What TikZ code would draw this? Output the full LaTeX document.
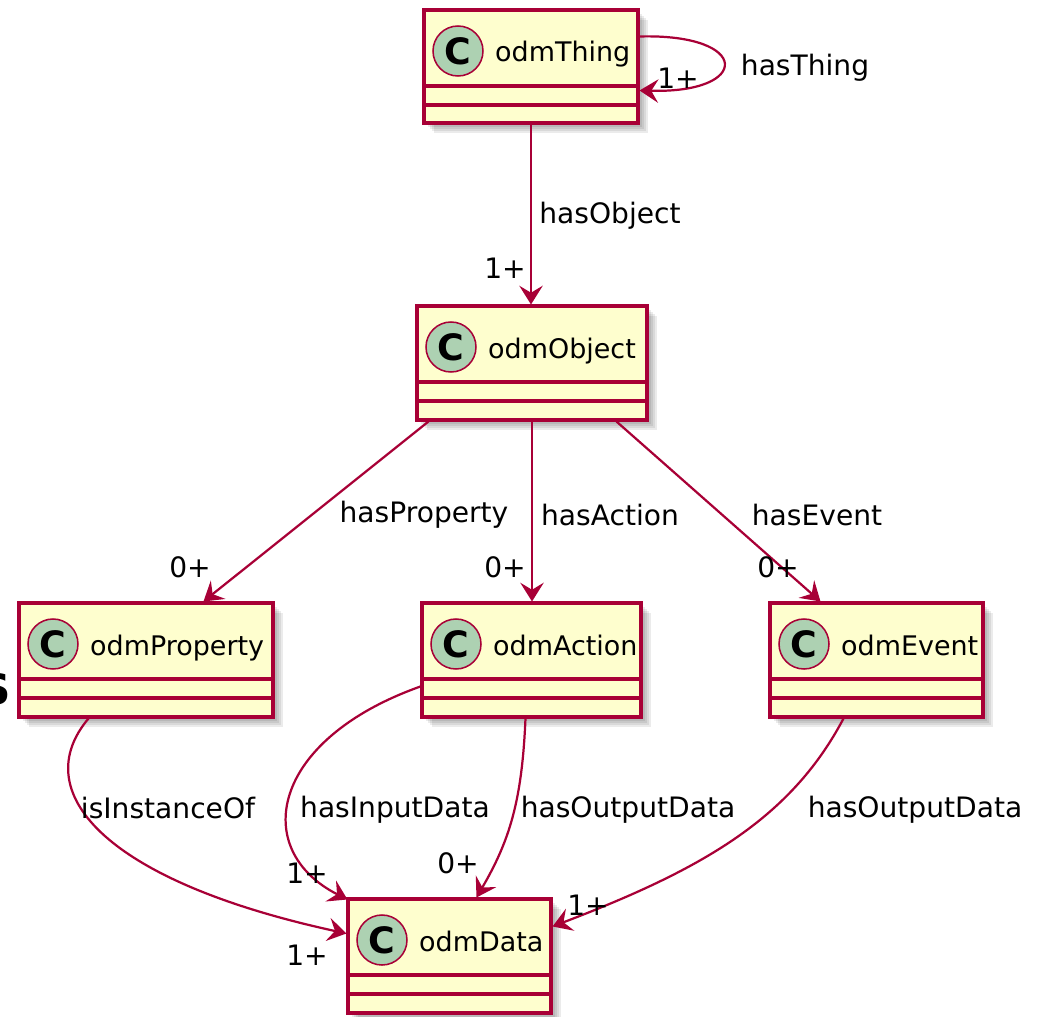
\documentclass[tikz,border=0pt]{standalone}
\usepackage{fontspec}
\setmainfont{DejaVu Sans}
\usetikzlibrary{arrows.meta,calc,fit}
\definecolor{umlfill}{HTML}{FEFECE}
\definecolor{umlred}{HTML}{A80036}
\definecolor{umlgreen}{HTML}{ADD1B2}

% class box: #1 name, #2..#5 corners (px), #6 class name
\newcommand\umlclass[6]{%
  \foreach \k in {2,4,6,8,10}{\fill[black,opacity=0.08] (#2+\k,#3+\k) rectangle (#4+\k,#5+\k);}
  \node[classbox, fit={(#2,#3) (#4,#5)}] (#1) {};
  \draw[sepline] (#2,#3+76) -- (#4,#3+76);
  \draw[sepline] (#2,#3+95) -- (#4,#3+95);
  \node[badge] (#1-badge) at (#2+34,#3+41) {C};
  \node[classname] (#1-name) at (#2+71,#3+52) {#6};
}

\begin{document}
\begin{tikzpicture}[x=0.03cm,y=-0.03cm,
  classbox/.style={draw=umlred, fill=umlfill, line width=2.6pt, inner sep=0pt},
  sepline/.style={draw=umlred, line width=3pt},
  badge/.style={circle, draw=umlred, fill=umlgreen, line width=1.3pt,
    minimum size=1.5cm, inner sep=0pt, font=\fontsize{31}{31}\selectfont\bfseries},
  classname/.style={anchor=base west, inner sep=0pt, font=\fontsize{23}{27}\selectfont},
  rel/.style={draw=umlred, line width=1.9pt,
    -{Stealth[length=16pt,width=20pt,inset=6pt]}},
  lbl/.style={font=\fontsize{24}{28}\selectfont, inner sep=0pt},
]
\useasboundingbox (0,0) rectangle (1046,1016);

% classes
\umlclass{thing}{424}{10}{638}{123}{odmThing}
\umlclass{object}{417}{306}{647}{420}{odmObject}
\umlclass{property}{19}{603}{273}{717}{odmProperty}
\umlclass{action}{422}{603}{641}{717}{odmAction}
\umlclass{event}{770}{603}{983}{717}{odmEvent}
\umlclass{data}{348}{899}{551}{1013}{odmData}

% glyph cut by the left edge
\node[anchor=east, inner sep=0pt, font=\fontsize{36}{36}\selectfont\bfseries] (edgeglyph) at (11,689) {S};

% hasThing (self loop)
\draw[rel] ($(thing.north east)+(0,28)$) .. controls ($(thing.north east)+(112,25)$)
  and ($(thing.north east)+(112,85)$) .. ($(thing.north east)+(0,82)$);
\node[lbl] (l-hasthing) at (805,68) {hasThing};
\node[lbl] (m-hasthing) at (678,78) {1+};

% hasObject
\draw[rel] (thing.south) -- (thing.south |- object.north);
\node[lbl] (l-hasobject) at (610,216) {hasObject};
\node[lbl] (m-hasobject) at (505,268) {1+};

% hasProperty
\draw[rel] ($(object.south west)+(13,0)$) -- ($(property.north west)+(186,0)$);
\node[lbl] (l-hasproperty) at (424,515) {hasProperty};
\node[lbl] (m-hasproperty) at (190,567) {0+};

% hasAction
\draw[rel] (object.south) -- (object.south |- action.north);
\node[lbl] (l-hasaction) at (610,515) {hasAction};
\node[lbl] (m-hasaction) at (505,567) {0+};

% hasEvent
\draw[rel] ($(object.south west)+(201,0)$) -- ($(event.north west)+(52,0)$);
\node[lbl] (l-hasevent) at (817,515) {hasEvent};
\node[lbl] (m-hasevent) at (778,567) {0+};

% isInstanceOf
\draw[rel] ($(property.south west)+(71,0)$) .. controls (28,790) and (100,880)
  .. ($(data.north west)+(0,36)$);
\node[lbl] (l-isinstance) at (168,808) {isInstanceOf};
\node[lbl] (m-isinstance) at (307,955) {1+};

% hasInputData
\draw[rel] ($(action.north west)+(0,85)$) .. controls (270,740) and (250,850)
  .. ($(data.north west)+(1,2)$);
\node[lbl] (l-hasinput) at (395,810) {hasInputData};
\node[lbl] (m-hasinput) at (307,873) {1+};

% hasOutputData (action)
\draw[rel] ($(action.south west)+(105,0)$) .. controls (522,800) and (510,840)
  .. ($(data.north west)+(130,0)$);
\node[lbl] (l-hasoutputa) at (628,810) {hasOutputData};
\node[lbl] (m-hasoutputa) at (458,863) {0+};

% hasOutputData (event)
\draw[rel] ($(event.south west)+(75,0)$) .. controls (790,820) and (700,870)
  .. ($(data.north east)+(0,29)$);
\node[lbl] (l-hasoutpute) at (915,810) {hasOutputData};
\node[lbl] (m-hasoutpute) at (588,905) {1+};
\end{tikzpicture}
\end{document}
